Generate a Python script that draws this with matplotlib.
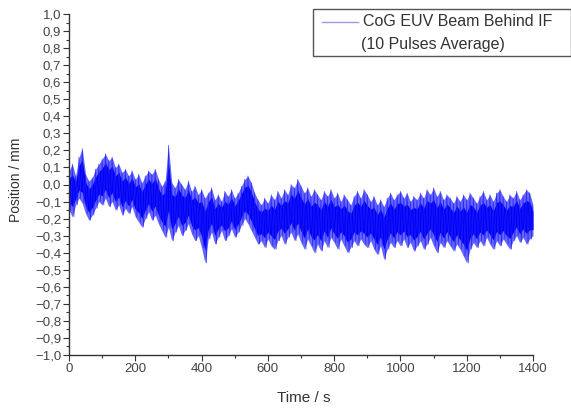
import numpy as np
import matplotlib
matplotlib.use("Agg")
import matplotlib.pyplot as plt
from matplotlib.ticker import MultipleLocator, FuncFormatter
from matplotlib.patches import Rectangle
from matplotlib.lines import Line2D

# Sample times (s), every 10 s
time_s = list(range(0, 1410, 10))

# Upper peaks of the noisy position signal (mm), read per 10 s
peaks = [0.08, 0.12, 0.05, 0.16, 0.21, 0.06, 0.02, 0.04, 0.09, 0.12,
         0.15, 0.18, 0.14, 0.16, 0.10, 0.12, 0.07, 0.09, 0.05, 0.08,
         0.03, 0.06, 0.01, 0.05, 0.08, 0.06, 0.09, 0.03, -0.01, 0.02,
         0.23, 0.01, -0.02, 0.03, 0.00, -0.03, 0.02, -0.04, -0.01, -0.06,
         -0.03, -0.08, -0.05, -0.02, -0.09, -0.06, -0.10, -0.04, -0.07, -0.03,
         -0.08, -0.05, -0.01, 0.03, 0.05, 0.01, -0.05, -0.09, -0.12, -0.08,
         -0.11, -0.06, -0.09, -0.04, -0.08, -0.03, -0.06, 0.00, -0.02, 0.03,
         -0.01, -0.05, -0.02, -0.07, -0.03, -0.06, -0.09, -0.04, -0.07, -0.03,
         -0.08, -0.05, -0.10, -0.06, -0.09, -0.12, -0.07, -0.04, -0.08, -0.03,
         -0.06, -0.10, -0.07, -0.12, -0.09, -0.13, -0.08, -0.05, -0.09, -0.06,
         -0.04, -0.08, -0.05, -0.10, -0.07, -0.09, -0.05, -0.08, -0.03, -0.06,
         -0.02, -0.07, -0.04, -0.09, -0.06, -0.08, -0.11, -0.07, -0.10, -0.06,
         -0.09, -0.05, -0.08, -0.11, -0.07, -0.04, -0.09, -0.06, -0.10, -0.05,
         -0.03, -0.07, -0.10, -0.06, -0.08, -0.04, -0.09, -0.06, -0.03, -0.05,
         -0.12]

# Lower troughs of the noisy position signal (mm), read per 10 s
troughs = [-0.15, -0.19, -0.12, -0.08, -0.11, -0.17, -0.21, -0.18, -0.14, -0.10,
           -0.12, -0.08, -0.13, -0.10, -0.15, -0.12, -0.18, -0.14, -0.17, -0.13,
           -0.19, -0.22, -0.25, -0.20, -0.16, -0.21, -0.18, -0.23, -0.27, -0.31,
           -0.25, -0.33, -0.28, -0.24, -0.30, -0.27, -0.23, -0.29, -0.33, -0.30,
           -0.37, -0.46, -0.32, -0.28, -0.35, -0.31, -0.27, -0.33, -0.30, -0.26,
           -0.31, -0.28, -0.24, -0.20, -0.23, -0.27, -0.31, -0.35, -0.33, -0.37,
           -0.32, -0.36, -0.38, -0.33, -0.30, -0.35, -0.31, -0.28, -0.33, -0.29,
           -0.34, -0.38, -0.32, -0.36, -0.40, -0.35, -0.39, -0.33, -0.37, -0.31,
           -0.34, -0.38, -0.32, -0.36, -0.40, -0.37, -0.33, -0.36, -0.32, -0.35,
           -0.37, -0.33, -0.38, -0.41, -0.36, -0.44, -0.38, -0.34, -0.37, -0.33,
           -0.36, -0.32, -0.37, -0.34, -0.39, -0.36, -0.33, -0.38, -0.35, -0.31,
           -0.36, -0.40, -0.34, -0.37, -0.33, -0.36, -0.39, -0.35, -0.38, -0.42,
           -0.46, -0.38, -0.34, -0.37, -0.33, -0.36, -0.31, -0.35, -0.38, -0.33,
           -0.36, -0.32, -0.35, -0.38, -0.33, -0.30, -0.34, -0.31, -0.35, -0.32,
           -0.30]

series_label = ["CoG EUV Beam Behind IF", "(10 Pulses Average)"]
x_label = "Time / s"
y_label = "Position / mm"

plt.rcParams['font.family'] = ['Liberation Sans', 'DejaVu Sans']

# Interleave peaks and troughs into one sample sequence (peak at t, trough at t+5)
t_seq = []
v_seq = []
for t, hi, lo in zip(time_s, peaks, troughs):
    t_seq.append(t)
    v_seq.append(hi)
    if t + 5 <= 1400:
        t_seq.append(t + 5)
        v_seq.append(lo)

fig = plt.figure(figsize=(5.71, 4.08), dpi=100)
ax = fig.add_axes([69/571, 53/408, (533-69)/571, (355-14)/408])

# Band of the noisy signal: lighter fringe, solid core
ax.fill_between(time_s, troughs, peaks, color='#3333ff', alpha=0.75, lw=0)
core_hi = [h - 0.2 * (h - l) for h, l in zip(peaks, troughs)]
core_lo = [l + 0.2 * (h - l) for h, l in zip(peaks, troughs)]
ax.fill_between(time_s, core_lo, core_hi, color='#0000f5', lw=0)
# Noisy trace spikes
ax.plot(t_seq, v_seq, color='#2020ff', lw=0.5, alpha=0.85)

ax.set_xlim(0, 1400)
ax.set_ylim(-1.0, 1.0)
ax.xaxis.set_major_locator(MultipleLocator(200))
ax.xaxis.set_minor_locator(MultipleLocator(100))
ax.yaxis.set_major_locator(MultipleLocator(0.1))
ax.yaxis.set_minor_locator(MultipleLocator(0.05))


def yfmt(v, p):
    s = f"{abs(v):.1f}".replace('.', ',')
    return ('\u2212' + s) if v < -1e-9 else s


ax.yaxis.set_major_formatter(FuncFormatter(yfmt))
ax.tick_params(which='major', direction='out', length=4, width=0.8, labelsize=9.5,
               colors='#333333', labelcolor='#444444', pad=1.5)
ax.tick_params(which='minor', direction='out', length=2, width=0.8, colors='#333333')
for s in ['top', 'right']:
    ax.spines[s].set_visible(False)
for s in ['left', 'bottom']:
    ax.spines[s].set_color('#333333')
    ax.spines[s].set_linewidth(1.0)

fig.text(304/571, 1 - 398/408, x_label, ha='center', va='center', fontsize=11, color='#333333')
fig.text(16/571, 1 - 180/408, y_label, ha='center', va='center', rotation=90, fontsize=10, color='#333333')

# Legend box
fig.patches.append(Rectangle((313/571, 1 - 56/408), (571 - 313)/571, 47/408,
                             transform=fig.transFigure, fill=False, edgecolor='#555555', lw=1.0))
fig.lines.append(Line2D([322/571, 358/571], [1 - 22/408, 1 - 22/408], transform=fig.transFigure,
                        color='#9999ee', lw=1.0))
fig.text(363/571, 1 - 21/408, series_label[0], ha='left', va='center', fontsize=11.5, color='#333333')
fig.text(361/571, 1 - 44/408, series_label[1], ha='left', va='center', fontsize=11.5, color='#333333')

fig.savefig('out.png', dpi=100)
